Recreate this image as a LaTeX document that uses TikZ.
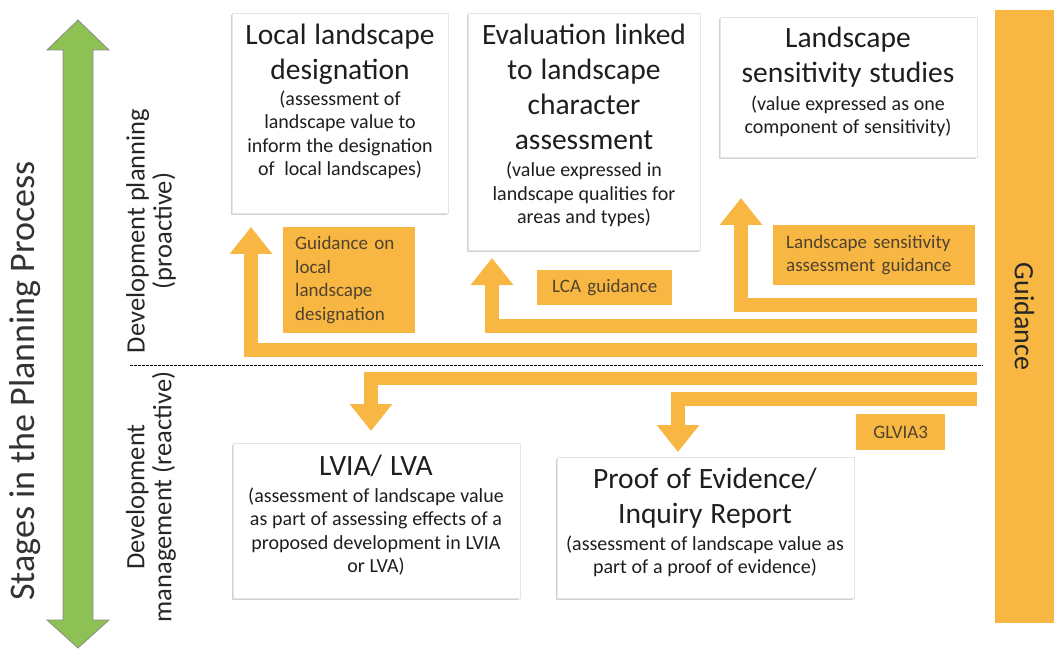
\documentclass[tikz,border=0pt]{standalone}
\usepackage{xcolor}
\usepackage{fontspec}
\setmainfont{Carlito}
\usepackage{tikz}
\usetikzlibrary{calc}
\usetikzlibrary{arrows.meta}
\usetikzlibrary{shadows}

\setlength{\parindent}{0pt}

\definecolor{guideorange}{RGB}{247,183,66}
\definecolor{stagegreen}{RGB}{141,193,83}
\definecolor{labelink}{RGB}{80,66,46}
\definecolor{panelink}{RGB}{30,30,30}

\newcommand{\paneltitle}{\fontsize{29.5}{35}\selectfont\spaceskip=0.27em\relax}
\newcommand{\panelsub}{\fontsize{20}{23.5}\selectfont\spaceskip=0.24em\relax}

\tikzset{
  panel/.style={rectangle, anchor=north west, draw=black!10, line width=1pt, fill=white, inner sep=0pt,
    drop shadow={shadow xshift=-1.5pt, shadow yshift=-1.5pt, fill=black!25, opacity=0.7}},
  paneltext/.style={anchor=base, inner sep=0pt, align=center, text=panelink},
  guidelabel/.style={rectangle, anchor=north west, fill=guideorange, inner xsep=12pt, inner ysep=0pt,
    align=left, text=labelink, font=\fontsize{19}{23.5}\selectfont},
  guidearrow/.style={draw=guideorange, line width=13.5pt, line join=miter, -{Triangle[width=41pt, length=27pt]}},
  stagelabel/.style={rotate=90, align=center, text=black!85, font=\fontsize{26.5}{27}\selectfont},
}

\begin{document}
\begin{tikzpicture}[x=1pt, y=-1pt]
\useasboundingbox (0,0) rectangle (1054,652);

% stages arrow and side labels
\filldraw [fill=stagegreen, draw=black!45, line width=0.8pt] (63,50) -- (47,50) -- (78,20) -- (109,50) -- (93,50)
  -- (93,620) -- (109,620) -- (78,648) -- (47,620) -- (63,620) -- cycle;
\node [rotate=90, font=\fontsize{36}{38}\selectfont, text=black!80] (stages) at (25,381) {Stages in the Planning Process};
\node [stagelabel] (proactive) at (151,231) {Development planning\\(proactive)};
\node [stagelabel] (reactive) at (151,497) {Development\\management (reactive)};

\coordinate (sepL) at (130,365);
\coordinate (sepR) at (983,365);
\draw [dash pattern=on 2.5pt off 1.5pt, line width=0.8pt] (sepL) -- (sepR);

% guidance bar
\node [rectangle, fill=guideorange, rotate=-90, minimum width=613pt, minimum height=59pt, inner sep=0pt,
  font=\fontsize{28}{30}\selectfont, text=black!85] (guidance) at (1024.5,316.5) {Guidance};

% panels
\node [panel, minimum width=216pt, minimum height=200pt] (local) at (232,13) {};
\node [panel, minimum width=232pt, minimum height=237pt] (lca) at (468,13) {};
\node [panel, minimum width=257pt, minimum height=140pt] (sens) at (720,17) {};
\node [panel, minimum width=287pt, minimum height=155pt] (lvia) at (233,443) {};
\node [panel, minimum width=297pt, minimum height=141pt] (proof) at (557,457) {};

\node [paneltext, text width=214pt] (localtxt) at (340,45) {{\paneltitle Local landscape\\designation\par}\vspace{2pt}%
  {\panelsub (assessment of\\landscape value to\\inform the designation\\of~ local landscapes)\par}};
\node [paneltext, text width=230pt] (lcatxt) at (584,45) {{\paneltitle Evaluation linked\\to landscape\\character\\assessment\par}\vspace{3.5pt}%
  {\panelsub (value expressed in\\landscape qualities for\\areas and types)\par}};
\node [paneltext, text width=254pt] (senstxt) at (848,48) {{\paneltitle Landscape\\sensitivity studies\par}\vspace{4pt}%
  {\panelsub (value expressed as one\\component of sensitivity)\par}};
\node [paneltext, text width=285pt] (lviatxt) at (376,475) {{\paneltitle LVIA/ LVA\par}\vspace{3.5pt}%
  {\panelsub (assessment of landscape value\\as part of assessing effects of a\\proposed development in LVIA\\or LVA)\par}};
\node [paneltext, text width=295pt] (prooftxt) at (705,488) {{\paneltitle Proof of Evidence/\\Inquiry Report\par}\vspace{3.5pt}%
  {\panelsub (assessment of landscape value as\\part of a proof of evidence)\par}};

% guidance arrows
\coordinate (g1) at (977,350);
\coordinate (t1) at (251,227);
\coordinate (g2) at (977,326);
\coordinate (t2) at (492,258);
\coordinate (g3) at (977,305);
\coordinate (t3) at (741,198);
\coordinate (g4) at (977,378.5);
\coordinate (t4) at (371,431);
\coordinate (g5) at (977,399);
\coordinate (t5) at (678,452);
\draw [guidearrow] (g1) -| (t1);
\draw [guidearrow] (g2) -| (t2);
\draw [guidearrow] (g3) -| (t3);
\draw [guidearrow] (g4) -| (t4);
\draw [guidearrow] (g5) -| (t5);

% guidance labels
\node [guidelabel, text width=108pt, minimum height=106pt] (locguide) at (283,227) {Guidance on\\local\\landscape\\designation};
\node [guidelabel, text width=111pt, minimum height=35pt, align=center] (lcaguide) at (537,270) {LCA guidance};
\node [guidelabel, text width=176pt, inner xsep=13pt, minimum height=60pt] (sensguide) at (773,225) {Landscape sensitivity\\assessment guidance};
\node [guidelabel, text width=65pt, minimum height=36pt, align=center] (glvia) at (856,414) {GLVIA3};
\end{tikzpicture}
\end{document}
